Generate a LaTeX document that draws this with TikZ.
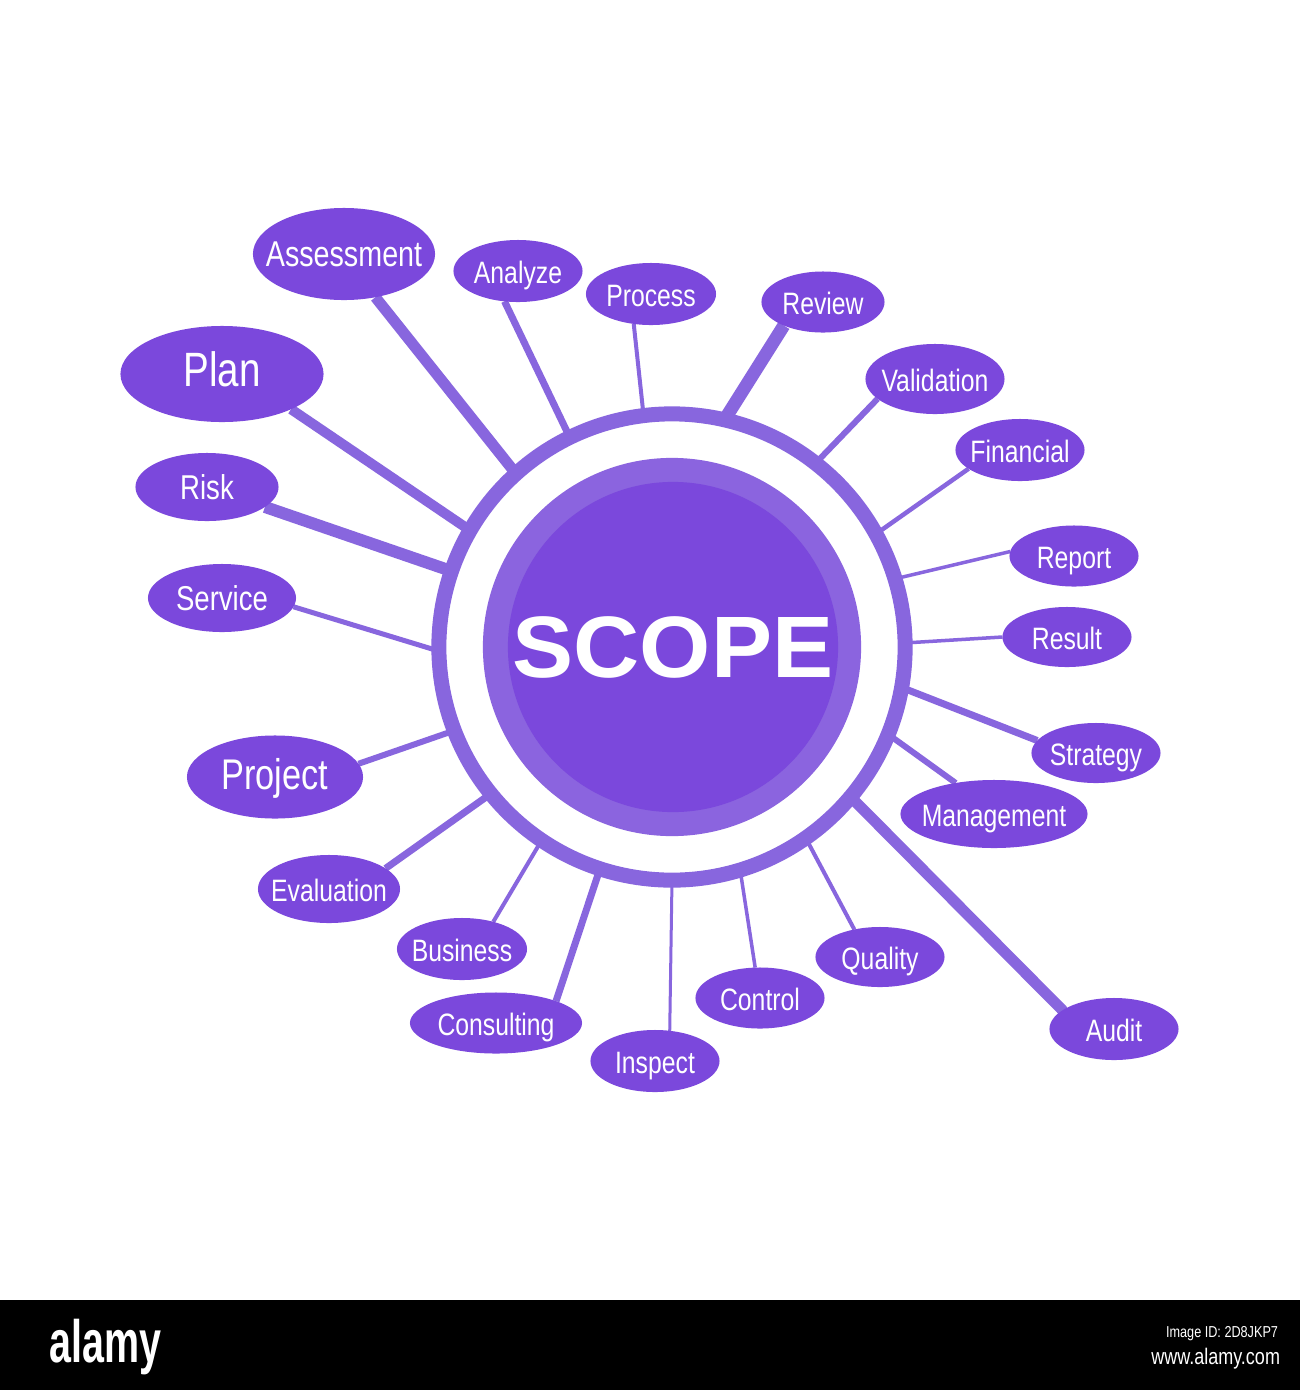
\documentclass[tikz,border=0pt]{standalone}
\usepackage{fontspec}
\setmainfont{Liberation Sans}
\newfontfamily\labelfont{Liberation Sans}[FakeStretch=0.8]
\newfontfamily\titlefont{Liberation Sans}[FakeStretch=1.05]
\newfontfamily\logofont{Liberation Sans}[FakeStretch=0.66]
\usetikzlibrary{
  shapes.geometric,
  backgrounds
}
\definecolor{scPurple}{HTML}{7B48DC}
\definecolor{scLine}{HTML}{8866DE}
\definecolor{scRim}{HTML}{8B64DF}

\begin{document}
\begin{tikzpicture}[
  x=0.01cm, y=-0.01cm,
  every node/.style={inner sep=0pt, outer sep=0pt},
  topic/.style={
    ellipse, fill=scPurple, text=white,
    font=\labelfont\fontsize{8.8}{10}\selectfont,
    text height=0.716em, text depth=0pt,
    execute at begin node={\hbox to 0pt\bgroup\hss},
    execute at end node={\hss\egroup},
    minimum width=1.29cm, minimum height=0.61cm
  },
  bigger/.style={font=\labelfont\fontsize{#1}{#1}\selectfont},
  spoke/.style={draw=scLine, line width=#1}
]
 \useasboundingbox (0,0) rectangle (1300,1390);

 % centre: ring, rim and disc
 \node[circle, draw=scLine, line width=1.5mm, minimum size=4.66cm] (ring) at (672,647) {};
 \node[circle, fill=scRim, minimum size=3.78cm] (rim) at (672,647) {};
 \node[circle, fill=scPurple, minimum size=3.30cm, text=white,
       font=\titlefont\bfseries\fontsize{24.8}{28}\selectfont] (scope) at (673,647) {SCOPE};

 % upper half (left to right)
 \node[topic, bigger=13.7, minimum width=2.03cm, minimum height=0.96cm] (plan) at (222,374) {Plan};
 \node[topic, bigger=10.2, minimum width=1.82cm, minimum height=0.92cm] (assess) at (344,254) {Assessment};
 \node[topic, minimum height=0.62cm] (analyze) at (518,271) {Analyze};
 \node[topic, minimum width=1.30cm, minimum height=0.62cm] (process) at (651,294) {Process};
 \node[topic, minimum width=1.23cm] (review) at (823,302) {Review};
 \node[topic, minimum width=1.39cm, minimum height=0.70cm] (valid) at (935,379) {Validation};
 \node[topic, minimum height=0.62cm] (financial) at (1020,450) {Financial};
 \node[topic] (report) at (1074,556) {Report};
 \node[topic, minimum height=0.60cm] (result) at (1067,637) {Result};

 % left side
 \node[topic, bigger=9.8, minimum width=1.43cm, minimum height=0.68cm] (risk) at (207,487) {Risk};
 \node[topic, bigger=9.8, minimum width=1.48cm, minimum height=0.68cm] (service) at (222,598) {Service};
 \node[topic, bigger=12.2, minimum width=1.76cm, minimum height=0.83cm] (project) at (275,777) {Project};
 \node[topic, minimum width=1.42cm, minimum height=0.68cm] (evaluation) at (329,889) {Evaluation};

 % lower half (left to right)
 \node[topic, minimum width=1.30cm, minimum height=0.62cm] (business) at (462,949) {Business};
 \node[topic, minimum width=1.72cm] (consult) at (496,1023) {Consulting};
 \node[topic, minimum height=0.62cm] (inspect) at (655,1061) {Inspect};
 \node[topic] (control) at (760,998) {Control};
 \node[topic, minimum height=0.60cm] (quality) at (880,957) {Quality};
 \node[topic, minimum height=0.62cm] (audit) at (1114,1029) {Audit};
 \node[topic, minimum width=1.87cm, minimum height=0.68cm] (manage) at (994,814) {Management};
 \node[topic, minimum height=0.60cm] (strategy) at (1096,753) {Strategy};

 \begin{scope}[on background layer]
  \fill[white] (0,0) rectangle (1300,1390);
  \draw[spoke=1.0mm] (plan.-27) -- (ring.150);
  \draw[spoke=1.1mm] (assess.-54) -- (ring.132);
  \draw[spoke=0.7mm] (analyze.-114) -- (ring.116);
  \draw[spoke=0.4mm] (process.-120) -- (ring.97);
  \draw[spoke=1.3mm] (review.211) -- (ring.77);
  \draw[spoke=0.6mm] (valid.199) -- (ring.52);
  \draw[spoke=0.45mm] (financial.200) -- (ring.29);
  \draw[spoke=0.35mm] (report.176) -- (ring.17);
  \draw[spoke=0.35mm] (result.180) -- (ring.1);
  \draw[spoke=0.7mm] (strategy.168) -- (ring.-10);
  \draw[spoke=0.6mm] (manage.141) -- (ring.-22);
  \draw[spoke=1.1mm, line cap=round] (audit.160) -- (ring.-40);
  \draw[spoke=0.4mm] (quality.133) -- (ring.-55);
  \draw[spoke=0.35mm] (control.99) -- (ring.-73);
  \draw[spoke=0.3mm] (inspect.64) -- (ring.-90);
  \draw[spoke=0.7mm] (consult.20) -- (ring.-108);
  \draw[spoke=0.4mm] (business.41) -- (ring.-124);
  \draw[spoke=0.7mm] (evaluation.20) -- (ring.-141);
  \draw[spoke=0.6mm] (project.9) -- (ring.-159);
  \draw[spoke=0.5mm] (service.-7) -- (ring.-179);
  \draw[spoke=1.2mm] (risk.-19) -- (ring.161);
 \end{scope}

 % bottom strip
 \fill[black] (0,1300) rectangle (1300,1390);
 \node[text=white, font=\logofont\bfseries\fontsize{17}{18}\selectfont, anchor=base west] (logo) at (50,1362) {alamy};
 \node[text=white, font=\labelfont\fontsize{4.5}{5}\selectfont, anchor=base east] (imgid) at (1278,1337) {Image ID: 2D8JKP7};
 \node[text=white, font=\labelfont\fontsize{6.4}{7}\selectfont, anchor=base east] (site) at (1280,1364) {www.alamy.com};
\end{tikzpicture}
\end{document}
